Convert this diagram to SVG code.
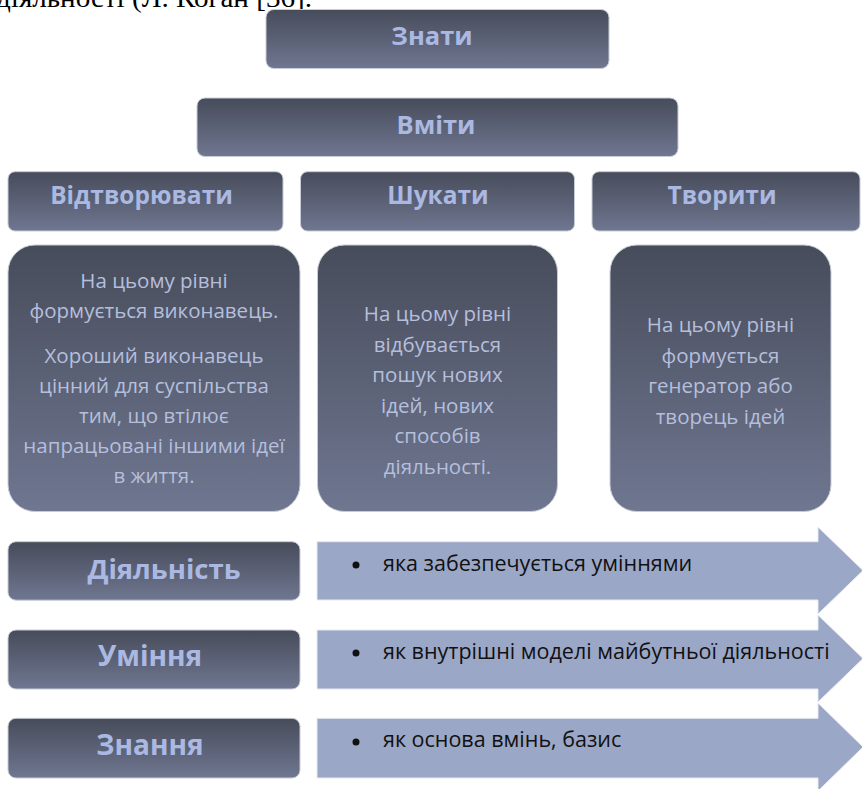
<svg xmlns="http://www.w3.org/2000/svg" width="862" height="789" viewBox="0 0 862 789">
<defs>
<linearGradient id="g" x1="0" y1="0" x2="0" y2="1">
<stop offset="0" stop-color="#474c5b"/>
<stop offset="0.35" stop-color="#555b6d"/>
<stop offset="1" stop-color="#6f7791"/>
</linearGradient>
<style>
.box{fill:url(#g);stroke:#c8ccd6;stroke-width:1}
.h{font-family:"Open Sans","DejaVu Sans",sans-serif;font-weight:bold;fill:#abb9e2;text-anchor:middle}
.b{font-family:"Open Sans","DejaVu Sans",sans-serif;font-size:20.5px;fill:#b5bfdc;text-anchor:middle}
.arr{fill:#9ba7c7;stroke:#e6e9f0;stroke-width:1}
.at{font-family:"Open Sans","DejaVu Sans",sans-serif;font-size:21.5px;fill:#111}
</style>
</defs>
<rect width="862" height="789" fill="#fff"/>
<text x="-4" y="7" font-family="Liberation Serif, serif" font-size="28" fill="#000" textLength="316" lengthAdjust="spacingAndGlyphs">діяльності (Л. Коган [36].</text>

<g id="znaty"><rect class="box" x="266" y="9.5" width="343" height="59" rx="8"/><text class="h" x="432" y="45" font-size="25.5">Знати</text></g>
<g id="vmity"><rect class="box" x="197" y="98" width="481" height="58.5" rx="8"/><text class="h" x="436" y="134" font-size="25.5">Вміти</text></g>
<g id="vidtvoryuvaty"><rect class="box" x="8" y="171.7" width="275" height="59.3" rx="7"/><text class="h" x="141.5" y="204" font-size="24.5">Відтворювати</text></g>
<g id="shukaty"><rect class="box" x="300.5" y="171.7" width="274" height="59.3" rx="7"/><text class="h" x="438" y="204" font-size="24.5">Шукати</text></g>
<g id="tvoryty"><rect class="box" x="592" y="171.7" width="268" height="59.3" rx="7"/><text class="h" x="722" y="204" font-size="24.5">Творити</text></g>

<g id="tall1"><rect class="box" x="8" y="245" width="292" height="266.5" rx="27"/>
<text class="b" x="154" y="288">На цьому рівні</text>
<text class="b" x="154" y="318">формується виконавець.</text>
<text class="b" x="154" y="363">Хороший виконавець</text>
<text class="b" x="154" y="393">цінний для суспільства</text>
<text class="b" x="154" y="423">тим, що втілює</text>
<text class="b" x="154" y="453">напрацьовані іншими ідеї</text>
<text class="b" x="154" y="483">в життя.</text>
</g>
<g id="tall2"><rect class="box" x="317.5" y="245" width="240" height="266.5" rx="27"/>
<text class="b" x="437.5" y="321">На цьому рівні</text>
<text class="b" x="437.5" y="351.5">відбувається</text>
<text class="b" x="437.5" y="382">пошук нових</text>
<text class="b" x="437.5" y="412.5">ідей, нових</text>
<text class="b" x="437.5" y="443">способів</text>
<text class="b" x="437.5" y="473.5">діяльності.</text>
</g>
<g id="tall3"><rect class="box" x="610" y="245" width="221" height="266.5" rx="27"/>
<text class="b" x="720.5" y="332">На цьому рівні</text>
<text class="b" x="720.5" y="363">формується</text>
<text class="b" x="720.5" y="393">генератор або</text>
<text class="b" x="720.5" y="424">творець ідей</text>
</g>

<g id="connectors">
<path class="arr" d="M317,541.7 H818 V527 L863,570.5 L818,614 V600 H317 Z"/>
<path class="arr" d="M317,630 H818 V615 L863,658.5 L818,702 V689 H317 Z"/>
<path class="arr" d="M317,718.3 H818 V703 L863,747 L818,791 V778 H317 Z"/>
</g>

<g id="diyalnist"><rect class="box" x="8" y="541.7" width="292" height="58.5" rx="8"/><text class="h" x="164" y="578.5" font-size="27.5">Діяльність</text></g>
<g id="diyalnist-text"><circle cx="356" cy="565" r="3.5" fill="#111"/><text class="at" x="383" y="571">яка забезпечується уміннями</text></g>
<g id="uminnya"><rect class="box" x="8" y="630" width="292" height="59" rx="8"/><text class="h" x="150" y="666" font-size="28">Уміння</text></g>
<g id="uminnya-text"><circle cx="356" cy="653" r="3.5" fill="#111"/><text class="at" x="383" y="659">як внутрішні моделі майбутньої діяльності</text></g>
<g id="znannya"><rect class="box" x="8" y="718.3" width="292" height="59.7" rx="8"/><text class="h" x="150" y="755" font-size="28">Знання</text></g>
<g id="znannya-text"><circle cx="356" cy="742" r="3.5" fill="#111"/><text class="at" x="383" y="747">як основа вмінь, базис</text></g>
</svg>
